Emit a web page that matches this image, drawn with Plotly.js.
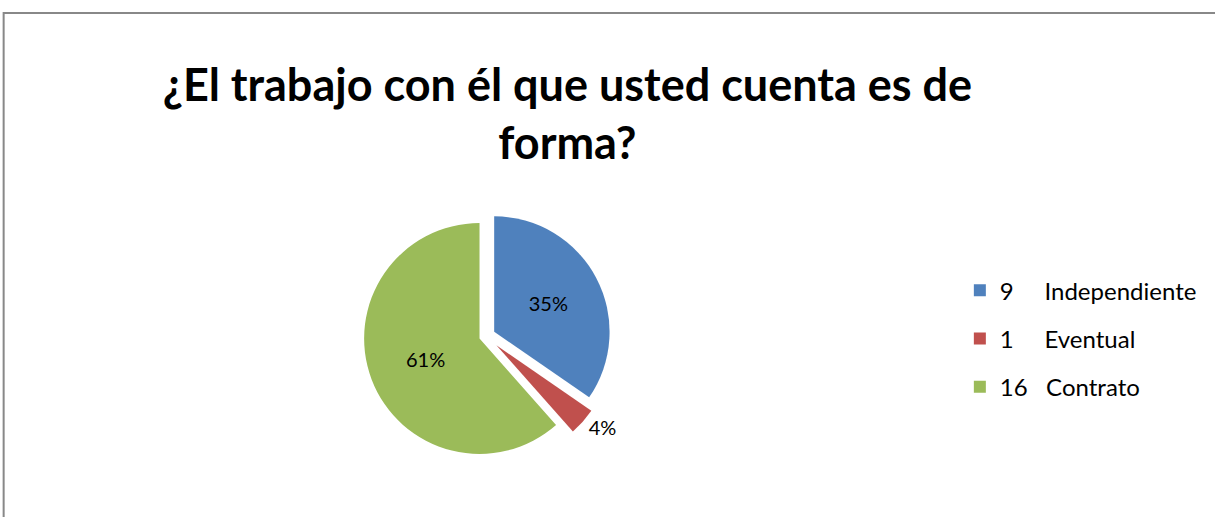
<!DOCTYPE html>
<html>
<head>
<meta charset="utf-8">
<script src="https://cdn.plot.ly/plotly-3.0.1.min.js"></script>
<style>html,body{margin:0;padding:0;background:#fff;}#chart{width:1215px;height:517px;}</style>
</head>
<body>
<div id="chart"></div>
<script>
const counts = ["9", "1", "16"];
const categories = ["Independiente", "Eventual", "Contrato"];
const values = [9, 1, 16];
const percentLabels = ["35%", "4%", "61%"];
const colors = ["#4F81BD", "#C0504D", "#9BBB59"];
const titleText = "¿El trabajo con él que usted cuenta es de<br>forma?";

const labels = categories.map((c, i) => counts[i] + (counts[i].length === 1 ? "\u00a0\u00a0\u00a0\u00a0\u00a0" : "\u00a0\u00a0\u00a0") + c);
const font = "Lato, 'Open Sans', sans-serif";

const data = [{
  type: "pie",
  labels: labels,
  values: values,
  text: percentLabels,
  sort: false,
  direction: "clockwise",
  rotation: 0,
  marker: {colors: colors, line: {color: "#ffffff", width: 0}},
  pull: [0.08, 0.12, 0.06],
  textinfo: "text",
  textposition: ["inside", "outside", "inside"],
  insidetextorientation: "horizontal",
  textfont: {family: font, size: 20, color: "#000"},
  outsidetextfont: {family: font, size: 20, color: "#000"},
  domain: {x: [0.17, 0.63], y: [0.1, 0.6]},
  showlegend: false,
  hoverinfo: "label+percent"
}];

labels.forEach((lab, i) => {
  data.push({
    type: "scatter", mode: "markers",
    x: [null], y: [null],
    name: lab,
    legendgroup: "g" + i,
    marker: {symbol: "square", color: colors[i], size: 14},
    showlegend: true, hoverinfo: "skip"
  });
});

const layout = {
  width: 1215, height: 517,
  margin: {l: 0, r: 0, t: 0, b: 0},
  paper_bgcolor: "#fff",
  plot_bgcolor: "rgba(0,0,0,0)",
  xaxis: {visible: false, domain: [0.9, 0.91]},
  yaxis: {visible: false, domain: [0.9, 0.91]},
  showlegend: true,
  title: {
    text: titleText,
    font: {family: font, size: 45, color: "#000", weight: "bold"},
    x: 0.467, xanchor: "center",
    y: 0.805, yanchor: "middle"
  },
  legend: {
    x: 0.79, y: 0.345, xanchor: "left", yanchor: "middle",
    font: {family: font, size: 24, color: "#000"},
    tracegroupgap: 14, itemsizing: "constant",
    bgcolor: "rgba(0,0,0,0)"
  },
  shapes: [{
    type: "rect", xref: "paper", yref: "paper",
    x0: 0.003, x1: 1.2, y0: -0.2, y1: 0.975,
    line: {color: "#888", width: 2}
  }]
};

Plotly.newPlot("chart", data, layout, {displayModeBar: false, staticPlot: true});
</script>
</body>
</html>
